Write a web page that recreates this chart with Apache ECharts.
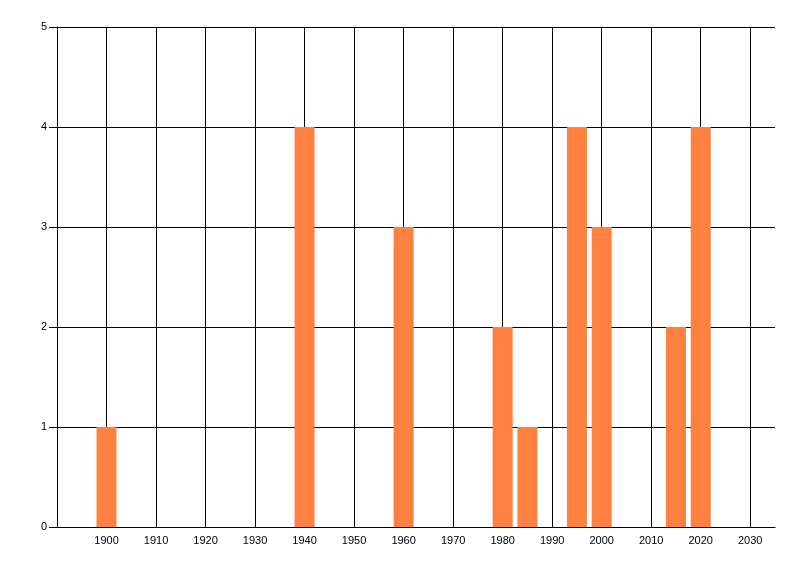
<!DOCTYPE html>
<html>
<head>
<meta charset="utf-8">
<script src="https://cdn.jsdelivr.net/npm/echarts@6/dist/echarts.min.js"></script>
<style>
  html, body { margin: 0; padding: 0; background: #fff; }
  #chart { width: 800px; height: 576px; }
</style>
</head>
<body>
<div id="chart"></div>
<script>
// years and counts
const years = [1900, 1940, 1960, 1980, 1985, 1995, 2000, 2015, 2020];
const counts = [1, 4, 3, 2, 1, 4, 3, 2, 4];

const myChart = echarts.init(document.getElementById('chart'));

const lineStyle = {color: '#000', width: 1};
const labelStyle = {color: '#000', fontSize: 11, fontFamily: 'Liberation Sans, Arial, sans-serif'};

myChart.setOption({
    animation: false,
    grid: {left: 57, right: 25, top: 27, bottom: 49},
    xAxis: {
        type: 'value',
        min: 1890,
        max: 2035,
        interval: 10,
        axisLine: {show: true, lineStyle: lineStyle},
        axisTick: {show: false},
        splitLine: {show: true, showMaxLine: false, lineStyle: lineStyle},
        axisLabel: Object.assign({
            margin: 8,
            showMinLabel: false,
            showMaxLabel: false,
            formatter: v => (v % 10 === 0 && v > 1890) ? String(v) : ''
        }, labelStyle)
    },
    yAxis: {
        type: 'value',
        min: 0,
        max: 5,
        interval: 1,
        axisLine: {show: true, lineStyle: lineStyle},
        axisTick: {show: true, length: 8, lineStyle: lineStyle},
        splitLine: {show: true, lineStyle: lineStyle},
        axisLabel: Object.assign({margin: 10}, labelStyle)
    },
    series: [{
        type: 'bar',
        barWidth: 20,
        itemStyle: {color: '#ff8040'},
        data: years.map((y, i) => [y, counts[i]])
    }]
});
</script>
</body>
</html>
